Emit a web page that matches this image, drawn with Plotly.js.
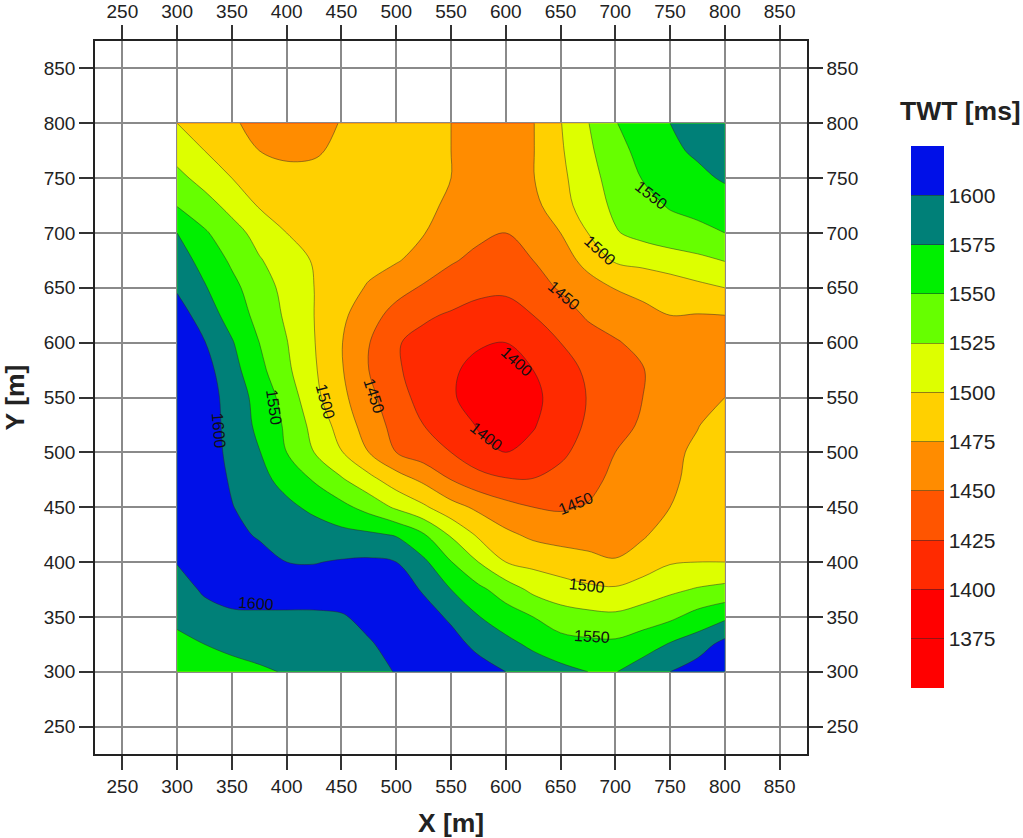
<!DOCTYPE html>
<html>
<head>
<meta charset="utf-8">
<script src="https://cdn.plot.ly/plotly-3.0.1.min.js"></script>
<style>html,body{margin:0;padding:0;background:#fff}</style>
</head>
<body>
<div id="chart" style="width:1023px;height:838px"></div>
<script>
// grid positions in metres
const xs = [300, 325, 350, 375, 400, 425, 450, 475, 500, 525, 550, 575, 600, 625, 650, 675, 700, 725, 750, 775, 800];
const ys = [300, 325, 350, 375, 400, 425, 450, 475, 500, 525, 550, 575, 600, 625, 650, 675, 700, 725, 750, 775, 800];

// TWT, one row per y (bottom to top)
const twt300 = [1556,1563,1565,1571,1577,1582,1587,1593,1601,1612,1618,1608,1600,1590,1582,1575,1574,1587,1600,1612,1622];
const twt325 = [1568,1575,1582,1586,1587,1587,1590,1598,1607,1612,1607,1595,1582,1570,1560,1556,1555,1564,1577,1588,1608];
const twt350 = [1581,1592,1595,1596,1596,1596,1598,1606,1611,1608,1597,1576,1562,1550,1536,1532,1530,1537,1545,1559,1570];
const twt375 = [1591,1603,1612,1612,1612,1612,1612,1612,1610,1598,1575,1556,1538,1519,1511,1505,1503,1511,1520,1527,1532];
const twt400 = [1601,1612,1612,1607,1600,1599,1602,1604,1600,1580,1551,1525,1500,1493,1487,1481,1476,1487,1498,1500,1500];
const twt425 = [1616,1612,1605,1598,1593,1588,1582,1579,1573,1552,1522,1496,1480,1470,1466,1466,1469,1472,1486,1495,1496];
const twt450 = [1624,1615,1601,1589,1581,1569,1557,1541,1521,1504,1484,1470,1458,1450,1447,1452,1460,1465,1475,1482,1490];
const twt475 = [1624,1615,1597,1583,1566,1548,1528,1508,1487,1470,1450,1435,1427,1426,1433,1441,1457,1462,1472,1480,1487];
const twt500 = [1624,1612,1594,1576,1550,1525,1501,1475,1450,1437,1425,1407,1400,1407,1420,1435,1450,1460,1470,1479,1483];
const twt525 = [1624,1612,1592,1569,1546,1517,1490,1463,1442,1425,1413,1398,1390,1398,1414,1428,1442,1453,1463,1474,1484];
const twt550 = [1624,1612,1590,1566,1540,1507,1481,1457,1434,1417,1404,1385,1380,1394,1411,1426,1438,1450,1458,1466,1475];
const twt575 = [1622,1609,1584,1557,1530,1503,1477,1450,1428,1415,1404,1392,1387,1400,1415,1429,1440,1449,1459,1464,1469];
const twt600 = [1618,1601,1577,1550,1526,1501,1476,1451,1427,1417,1410,1403,1400,1413,1425,1436,1448,1456,1461,1463,1465];
const twt625 = [1612,1588,1565,1542,1521,1500,1480,1460,1441,1429,1422,1415,1414,1425,1435,1454,1460,1468,1475,1474,1475];
const twt650 = [1597,1577,1557,1536,1518,1500,1488,1472,1459,1447,1440,1432,1430,1438,1453,1466,1476,1482,1487,1494,1500];
const twt675 = [1586,1567,1546,1527,1512,1498,1491,1484,1477,1466,1452,1445,1440,1450,1465,1482,1503,1507,1513,1519,1526];
const twt700 = [1575,1553,1535,1516,1500,1495,1490,1486,1482,1476,1460,1454,1450,1462,1475,1500,1523,1533,1540,1544,1550];
const twt725 = [1549,1535,1517,1498,1490,1486,1484,1483,1483,1479,1472,1463,1456,1468,1490,1512,1530,1542,1552,1557,1563];
const twt750 = [1532,1516,1500,1490,1483,1482,1485,1486,1486,1482,1475,1466,1462,1474,1494,1516,1535,1551,1560,1569,1578];
const twt775 = [1515,1500,1488,1475,1470,1472,1480,1486,1489,1486,1475,1468,1464,1474,1497,1520,1542,1557,1570,1579,1584];
const twt800 = [1500,1489,1478,1468,1460,1468,1476,1483,1487,1483,1475,1470,1466,1474,1499,1524,1549,1561,1575,1585,1592];
const twt = [twt300, twt325, twt350, twt375, twt400, twt425, twt450, twt475, twt500, twt525, twt550,
             twt575, twt600, twt625, twt650, twt675, twt700, twt725, twt750, twt775, twt800];

// one colour per 25 ms band, 1350 up to 1625
const bandColors = ['#ff0000', '#ff0000', '#ff2a00', '#ff5500', '#ff8c00', '#ffd000',
                    '#ddff00', '#66ff00', '#00f000', '#008078', '#0010e8'];
const cbTicks = [1375, 1400, 1425, 1450, 1475, 1500, 1525, 1550, 1575, 1600];

// contour labels as they sit on the map
const labelText = ['1550', '1500', '1450', '1400', '1400', '1450', '1500', '1550', '1600', '1600', '1550', '1500', '1450'];
const labelX = [733, 686, 653, 610, 582, 664, 674, 679, 372, 338, 388.5, 435, 480];
const labelY = [734, 684, 643, 583, 514, 453, 379, 332, 362, 520, 541, 546, 551];
const labelAngle = [38, 42, 40, 42, 38, -22, 6, 3, 4, 85, 82, 75, 72];

let stepScale = [];
bandColors.forEach(function(c, i) {
    stepScale.push([i / bandColors.length, c]);
    stepScale.push([(i + 1) / bandColors.length, c]);
});

const filled = {
    type: 'contour', x: xs, y: ys, z: twt,
    autocontour: false, zmin: 1350, zmax: 1625,
    contours: {start: 1350, end: 1625, size: 25, coloring: 'fill', showlines: false},
    line: {width: 0, smoothing: 1},
    colorscale: stepScale,
    hoverinfo: 'skip',
    colorbar: {
        x: (911 - 95) / 928, xanchor: 'left', xpad: 0,
        y: (754 - 146) / 713, yanchor: 'top', ypad: 0,
        lenmode: 'pixels', len: 542, thickness: 33,
        outlinewidth: 0, borderwidth: 0,
        tickmode: 'array', tickvals: cbTicks, ticktext: cbTicks.map(String),
        ticks: 'inside', ticklen: 33, tickwidth: 1, tickcolor: 'rgba(40,40,40,0.5)',
        tickfont: {size: 21, color: '#222'}
    }
};
// contour lines sit on the second pair of axes, which also carry the top and right ticks
const lines = {
    type: 'contour', x: xs, y: ys, z: twt, xaxis: 'x2', yaxis: 'y2',
    autocontour: false, showscale: false, hoverinfo: 'skip',
    contours: {start: 1375, end: 1600, size: 25, coloring: 'none'},
    line: {width: 0.8, color: 'rgba(40,40,40,0.6)', smoothing: 1}
};

function axisStyle(extra) {
    return Object.assign({
        range: [225, 875], tick0: 250, dtick: 50, tickmode: 'linear',
        ticks: 'outside', ticklen: 14, tickwidth: 1.5, tickcolor: '#333',
        tickfont: {size: 19, color: '#222'},
        showline: true, linecolor: '#222', linewidth: 1.5,
        zeroline: false
    }, extra);
}

const mapLabels = labelText.map(function(t, i) {
    return {text: t, x: labelX[i], y: labelY[i], xref: 'x', yref: 'y', showarrow: false,
            textangle: labelAngle[i], font: {size: 16, color: '#111'}};
});

const layout = {
    width: 1023, height: 838,
    margin: {l: 95, r: 0, t: 41, b: 84, pad: 0, autoexpand: false},
    paper_bgcolor: '#fff', plot_bgcolor: '#fff',
    font: {family: '"Liberation Sans", Arial, sans-serif'},
    showlegend: false,
    xaxis: axisStyle({domain: [0, 712 / 928], showgrid: true, gridcolor: '#8a8a8a', gridwidth: 1.5,
                      title: {text: '<b>X [m]</b>', font: {size: 26.5, color: '#222'}, standoff: 18}}),
    yaxis: axisStyle({showgrid: true, gridcolor: '#8a8a8a', gridwidth: 1.5,
                      title: {text: '<b>Y [m]</b>', font: {size: 26.5, color: '#222'}, standoff: 12}}),
    xaxis2: axisStyle({domain: [0, 712 / 928], overlaying: 'x', side: 'top', anchor: 'y2', showgrid: false}),
    yaxis2: axisStyle({overlaying: 'y', side: 'right', anchor: 'x2', showgrid: false}),
    annotations: mapLabels.concat([{
        text: '<b>TWT [ms]</b>', xref: 'paper', yref: 'paper', showarrow: false,
        x: (960 - 95) / 928, y: (754 - 111) / 713, xanchor: 'center', yanchor: 'middle',
        font: {size: 26.5, color: '#222'}
    }])
};

Plotly.newPlot('chart', [filled, lines], layout, {displayModeBar: false});
</script>
</body>
</html>
